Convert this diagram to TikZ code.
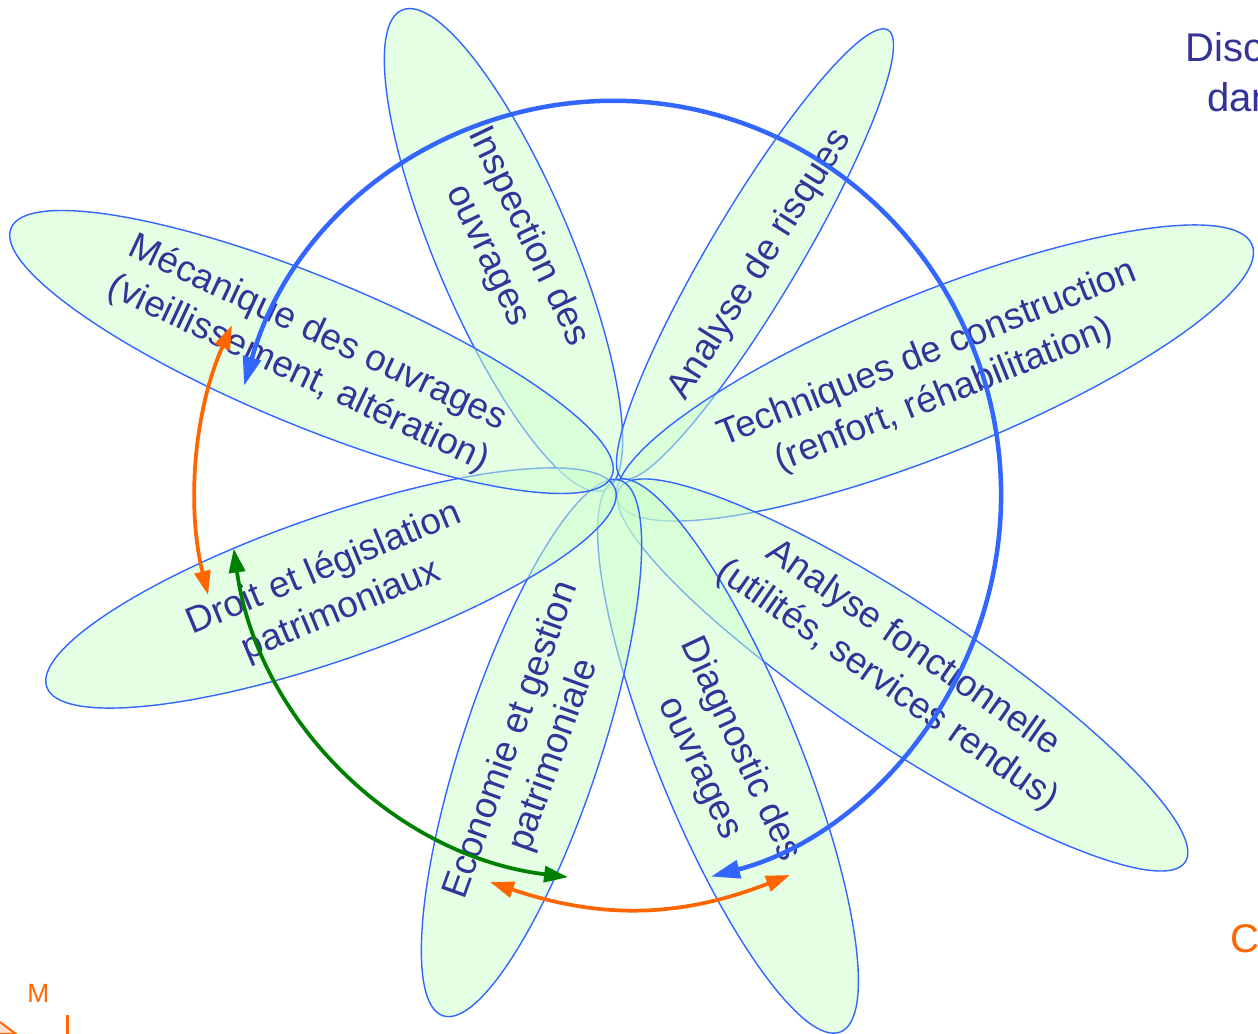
\documentclass[tikz,border=0pt]{standalone}
\usepackage{fontspec}
\setmainfont{Liberation Sans}
\usepackage{tikz}
\usetikzlibrary{arrows.meta}
\definecolor{petalgreen}{RGB}{204,255,204}
\definecolor{petalblue}{RGB}{51,102,255}
\definecolor{navy}{RGB}{51,51,153}
\definecolor{linkorange}{RGB}{255,102,0}
\definecolor{linkgreen}{RGB}{0,128,0}
\begin{document}
\begin{tikzpicture}[
  petal/.style={fill=petalgreen, fill opacity=0.5, draw=petalblue, line width=0.8pt},
  lbl/.style={text=navy, align=center, inner sep=0pt, font=\fontsize{21}{25.5}\selectfont},
  side/.style={inner sep=0pt, anchor=base west, font=\fontsize{22.8}{27}\selectfont},
  ring/.style={draw=petalblue, line width=0.09cm, {Triangle[length=0.58cm, width=0.36cm]}-{Triangle[length=0.58cm, width=0.36cm]}},
  link/.style={line width=0.075cm, {Triangle[length=0.48cm, width=0.32cm]}-{Triangle[length=0.48cm, width=0.32cm]}}]
  \useasboundingbox (0cm,0cm) rectangle (25.16cm,-20.68cm);
  \clip (0cm,0cm) rectangle (25.16cm,-20.68cm);
  \filldraw[fill=white, draw=none] (0cm,0cm) rectangle (25.16cm,-20.68cm);
  \coordinate (hub) at (12.30cm,-9.90cm);

  \filldraw[petal, rotate around={112.9:(10.07cm,-5.00cm)}] (10.07cm,-5.00cm) ellipse (5.21cm and 1.36cm);
  \filldraw[petal, rotate around={59.3:(15.10cm,-5.08cm)}] (15.10cm,-5.08cm) ellipse (5.21cm and 0.9cm);
  \filldraw[petal, rotate around={22:(18.70cm,-7.46cm)}] (18.70cm,-7.46cm) ellipse (6.84cm and 1.6cm);
  \filldraw[petal, rotate around={-33.5:(18.05cm,-13.50cm)}] (18.05cm,-13.50cm) ellipse (6.78cm and 1.4cm);
  \filldraw[petal, rotate around={-67.8:(14.56cm,-15.12cm)}] (14.56cm,-15.12cm) ellipse (5.96cm and 1.42cm);
  \filldraw[petal, rotate around={-108.3:(10.63cm,-14.96cm)}] (10.63cm,-14.96cm) ellipse (5.64cm and 1.38cm);
  \filldraw[petal, rotate around={199.2:(6.62cm,-11.76cm)}] (6.62cm,-11.76cm) ellipse (6.02cm and 1.44cm);
  \filldraw[petal, rotate around={157.6:(6.23cm,-7.04cm)}] (6.23cm,-7.04cm) ellipse (6.50cm and 1.48cm);

  \node[lbl, rotate=-64.5] (insp) at (10.16cm,-4.92cm) {Inspection des\\ouvrages};
  \node[lbl, rotate=57.8] (risk) at (15.20cm,-5.30cm) {Analyse de risques};
  \node[lbl, rotate=21.8] (tech) at (18.72cm,-7.50cm) {Techniques de construction\\(renfort, réhabilitation)};
  \node[lbl, rotate=-35] (fonc) at (18.00cm,-13.34cm) {Analyse fonctionnelle\\(utilités, services rendus)};
  \node[lbl, rotate=-65] (diag) at (14.40cm,-15.18cm) {Diagnostic des\\ouvrages};
  \node[lbl, rotate=70.2] (eco) at (10.66cm,-14.96cm) {Economie et gestion\\patrimoniale};
  \node[lbl, rotate=22.7] (droit) at (6.66cm,-11.80cm) {Droit et législation\\patrimoniaux};
  \node[lbl, rotate=-25.2] (meca) at (6.16cm,-7.08cm) {Mécanique des ouvrages\\(vieillissement, altération)};

  \node[side, text=navy] (disc) at (23.70cm,-1.24cm) {Disc};
  \node[side, text=navy] (dans) at (24.14cm,-2.24cm) {dan};
  \node[side, text=linkorange] (corner) at (24.60cm,-19.06cm) {C};
  \node[side, text=linkorange, font=\fontsize{15}{18}\selectfont] (mark) at (0.54cm,-20.06cm) {M};
  \draw[linkorange, line width=0.06cm] (1.34cm,-20.30cm) -- (1.34cm,-20.68cm);
  \filldraw[fill=linkorange!20, draw=linkorange, line width=0.04cm] (0cm,-20.44cm) -- (0.32cm,-20.68cm) -- (0cm,-20.68cm);

  \coordinate (ecoend) at (9.80cm,-17.64cm);
  \coordinate (diagend) at (15.80cm,-17.50cm);
  \draw[ring] ([shift={(163.9:7.72cm and 7.88cm)}]hub) arc[start angle=163.9, end angle=-75.6, x radius=7.72cm, y radius=7.88cm];
  \draw[link, linkorange] ([shift={(156.1:8.38cm)}]hub) arc[start angle=156.1, end angle=193.8, radius=8.38cm];
  \draw[link, linkgreen] ([shift={(188:7.7cm)}]hub) arc[start angle=188, end angle=263, radius=7.7cm];
  \draw[link, linkorange] (ecoend) to[bend right=20] (diagend);
\end{tikzpicture}
\end{document}
